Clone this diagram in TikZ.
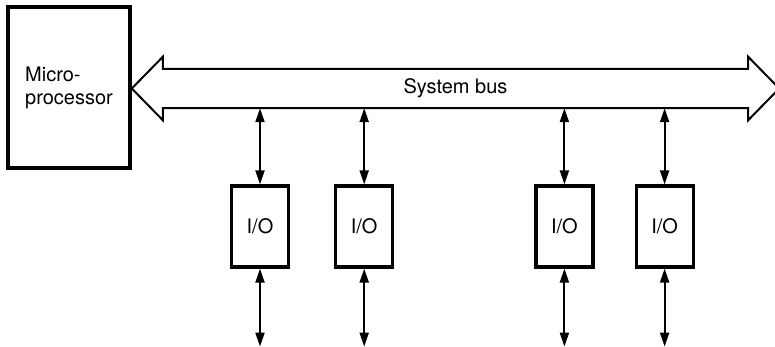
\documentclass[tikz,border=0pt]{standalone}
\usepackage{fontspec}
\setmainfont{TeX Gyre Heros}
\usepackage{tikz}
\usetikzlibrary{arrows.meta,positioning,calc}
\tikzset{
  cpu/.style    = {rectangle, draw, line width=3.2pt,
                   minimum width=122pt, minimum height=161pt,
                   align=left, inner sep=0pt},
  iobox/.style  = {rectangle, draw, line width=3.2pt,
                   minimum width=57pt, minimum height=81pt,
                   inner sep=0pt},
  shaft/.style  = {rectangle, minimum width=585pt, minimum height=39pt,
                   inner sep=0pt},
  buswall/.style= {line width=2pt, line join=miter},
  link/.style   = {{Triangle[length=14pt,width=9pt]}-{Triangle[length=14pt,width=9pt]},
                   line width=2pt},
}

\begin{document}
\begin{tikzpicture}[x=1pt, y=1pt, font=\fontsize{20}{23}\selectfont]
\useasboundingbox (0,0) rectangle (775,347);

%% ── Processor and bus ─────────────────────────────────────────────────
\node[cpu] (cpu) at (69,259.5) {Micro-\\processor};
\node[shaft] (bus) at (455.5,258.5) {System bus};

\draw[buswall] (bus.north west) -- ++(0,12) -- ([xshift=-31pt]bus.west)
  -- ([yshift=-12pt]bus.south west) -- (bus.south west) -- (bus.south east)
  -- ++(0,-12) -- ([xshift=31pt]bus.east) -- ([yshift=12pt]bus.north east)
  -- (bus.north east) -- cycle;

%% ── I/O modules ───────────────────────────────────────────────────────
\node[iobox] (io1) at (260,120.5) {I/O};
\node[iobox, right=44pt of io1] (io2) {I/O};
\node[iobox, right=140pt of io2] (io3) {I/O};
\node[iobox, right=40pt of io3] (io4) {I/O};

%% ── Outside ends of the lower links ───────────────────────────────────
\coordinate (ext1) at ($(io1.south)+(0,-78)$);
\coordinate (ext2) at ($(io2.south)+(0,-78)$);
\coordinate (ext3) at ($(io3.south)+(0,-78)$);
\coordinate (ext4) at ($(io4.south)+(0,-78)$);

%% ── Links: bus ↔ I/O ↔ outside ────────────────────────────────────────
\foreach \i in {1,...,4} {
  \draw[link] (io\i.north |- bus.south) -- (io\i.north);
  \draw[link] (io\i.south) -- (ext\i);
}

\end{tikzpicture}
\end{document}
